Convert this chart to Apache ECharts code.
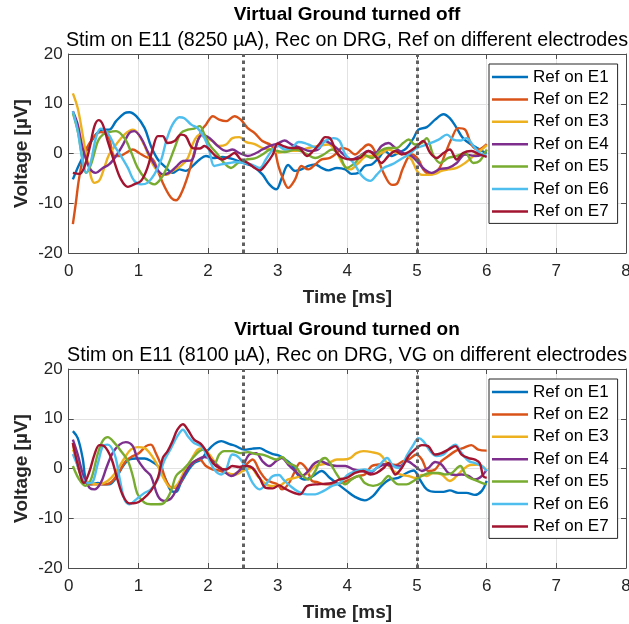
<!DOCTYPE html>
<html><head><meta charset="utf-8">
<script src="https://cdn.jsdelivr.net/npm/echarts@6/dist/echarts.min.js"></script>
<style>html,body{margin:0;padding:0;background:#fff}#c{width:629px;height:624px}</style>
</head><body><div id="c"></div>
<script>
// ---------- data ----------
const seriesNames = ['Ref on E1','Ref on E2','Ref on E3','Ref on E4','Ref on E5','Ref on E6','Ref on E7'];
const seriesColors = ['#0072BD','#D95319','#EDB120','#7E2F8E','#77AC30','#4DBEEE','#A2142F'];
const xRange = [0, 8, 1];
const yRange = [-20, 20, 10];
const markerTimes = [2.5, 5];
const titlesTop = ['Virtual Ground turned off', 'Stim on E11 (8250 µA), Rec on DRG, Ref on different electrodes'];
const titlesBottom = ['Virtual Ground turned on', 'Stim on E11 (8100 µA), Rec on DRG, VG on different electrodes'];
const xName = 'Time [ms]';
const yName = 'Voltage [µV]';

// Virtual ground off: [time ms, voltage µV]
const offE1 = [[0.06,-5.2],[0.15,-2.2],[0.25,0.5],[0.39,3.8],[0.49,4.8],[0.58,4.8],[0.68,6.5],[0.8,8.1],[0.87,8.3],[0.97,7.5],[1.09,5.1],[1.18,1.5],[1.28,-1.2],[1.4,-2.9],[1.49,-3.9],[1.59,-3.2],[1.68,-3.5],[1.78,-2.5],[1.88,-1.2],[1.97,-0.5],[2.07,-0.9],[2.21,-0.7],[2.35,-1.1],[2.5,-1.9],[2.64,-2.5],[2.78,-4.2],[2.88,-6.2],[2.98,-7.2],[3.06,-4.9],[3.15,-2.3],[3.25,-3.5],[3.34,-3.2],[3.44,-2.5],[3.54,-2.2],[3.63,-2.9],[3.73,-3.4],[3.85,-2.9],[3.97,-3.2],[4.06,-4.1],[4.16,-3.9],[4.25,-2.5],[4.35,-2.2],[4.45,-0.9],[4.54,0.5],[4.64,-0.5],[4.73,0.1],[4.85,1.1],[4.95,3.1],[5.02,4.8],[5.14,5.3],[5.26,6.8],[5.38,7.9],[5.47,7.1],[5.57,5.1],[5.66,3.1],[5.78,1.8],[5.9,0.8],[6.0,0]];
const offE2 = [[0.06,-14.2],[0.1,-10.2],[0.15,-4.9],[0.22,-0.2],[0.3,2.1],[0.39,3.8],[0.46,4.3],[0.56,3.8],[0.66,-0.5],[0.73,-0.5],[0.82,0.1],[0.92,0.8],[1.01,0.1],[1.11,-0.7],[1.21,-1.2],[1.28,-3.5],[1.37,-6.5],[1.47,-8.9],[1.54,-9.4],[1.61,-8.2],[1.71,-4.5],[1.8,0.1],[1.9,4.5],[1.97,5.8],[2.07,7.5],[2.16,6.8],[2.26,6.5],[2.38,7.5],[2.47,6.8],[2.57,5.1],[2.67,4.1],[2.78,2.5],[2.9,1.7],[2.96,0.5],[3.01,-2.5],[3.08,-5.2],[3.15,-6.9],[3.25,-5.2],[3.34,-2.5],[3.44,-3.2],[3.54,-2.2],[3.63,-1.2],[3.75,-0.9],[3.85,0.1],[3.92,1.1],[4.01,0.8],[4.11,-0.2],[4.2,0.8],[4.3,1.8],[4.37,1.1],[4.45,-1.5],[4.54,-4.5],[4.64,-6.3],[4.71,-6.1],[4.8,-2.9],[4.92,-0.2],[5.02,-1.2],[5.09,-3.2],[5.19,-4.2],[5.31,-3.2],[5.4,-0.2],[5.5,3.1],[5.59,5.1],[5.69,4.8],[5.78,1.8],[5.88,0.8],[6.0,1.9]];
const offE3 = [[0.06,12.1],[0.13,9.1],[0.2,3.8],[0.27,-1.5],[0.37,-5.9],[0.44,-5.4],[0.51,-2.9],[0.58,-0.2],[0.68,1.8],[0.8,3.8],[0.92,4.8],[0.99,4.1],[1.09,1.5],[1.18,-1.5],[1.3,-3.9],[1.4,-4.3],[1.49,-3.5],[1.61,-2.5],[1.71,-0.9],[1.8,2.5],[1.88,3.8],[1.97,3.1],[2.07,2.5],[2.16,1.5],[2.26,1.8],[2.35,3.1],[2.45,3.3],[2.55,2.3],[2.67,1.9],[2.78,1.1],[2.9,0.8],[3.01,0.2],[3.15,0.5],[3.3,0.6],[3.44,1.1],[3.58,1.5],[3.73,1.8],[3.85,0.1],[3.94,-2.2],[4.04,-3.2],[4.16,-1.9],[4.28,-0.5],[4.4,-0.5],[4.49,0.1],[4.59,0.8],[4.71,0.1],[4.83,-0.2],[4.92,-1.2],[5.0,-3.5],[5.07,-4.3],[5.16,-4.3],[5.26,-4.1],[5.35,-3.5],[5.45,-3.2],[5.57,-2.9],[5.69,-1.9],[5.81,-0.5],[5.93,0.8],[6.0,1.7]];
const offE4 = [[0.06,8.5],[0.13,5.8],[0.2,1.1],[0.3,-2.9],[0.39,-3.9],[0.49,-2.9],[0.58,-2.2],[0.68,-0.5],[0.78,1.8],[0.87,4.1],[0.94,4.5],[1.04,3.1],[1.13,0.5],[1.23,-2.2],[1.35,-4.2],[1.44,-3.9],[1.54,-2.7],[1.64,-1.5],[1.76,-1.4],[1.85,2.5],[1.92,3.8],[2.02,3.1],[2.14,1.5],[2.26,0.5],[2.35,0.8],[2.45,0.1],[2.57,-0.5],[2.69,0.1],[2.78,0.8],[2.88,1.5],[3.0,2.0],[3.1,2.6],[3.2,1.8],[3.34,1.1],[3.46,0.5],[3.58,0.8],[3.68,2.5],[3.78,1.8],[3.87,0.8],[3.97,-0.5],[4.06,-1.2],[4.18,-0.5],[4.3,0.5],[4.4,0.1],[4.49,1.5],[4.59,2.1],[4.69,1.1],[4.8,0.1],[4.92,-0.5],[5.02,-1.9],[5.11,-3.2],[5.21,-3.9],[5.33,-3.1],[5.45,-2.9],[5.57,-1.9],[5.69,-0.2],[5.83,-0.5],[5.95,-0.2]];
const offE5 = [[0.06,8.1],[0.13,4.5],[0.2,-1.2],[0.25,-3.9],[0.32,-2.2],[0.42,2.5],[0.49,3.8],[0.58,4.3],[0.68,4.5],[0.8,3.1],[0.89,0.5],[0.99,-2.9],[1.11,-5.2],[1.23,-6.2],[1.33,-4.9],[1.42,-2.5],[1.52,1.1],[1.61,4.1],[1.71,4.8],[1.8,5.0],[1.88,5.5],[1.95,3.8],[2.02,1.8],[2.14,-0.2],[2.23,-1.9],[2.33,-2.9],[2.43,-1.9],[2.55,-1.2],[2.67,-1.0],[2.78,-0.2],[2.9,0.8],[3.0,0.5],[3.1,0.3],[3.25,0.8],[3.39,0.1],[3.54,-0.9],[3.66,-0.2],[3.78,0.8],[3.89,-0.5],[3.99,-2.9],[4.11,-1.9],[4.23,-0.2],[4.35,-0.9],[4.47,0.5],[4.59,1.1],[4.71,1.1],[4.8,2.1],[4.88,2.8],[4.97,1.8],[5.07,2.1],[5.14,3.1],[5.23,-0.2],[5.33,-1.9],[5.45,-0.9],[5.57,-0.5],[5.69,0.1],[5.81,-1.9],[5.9,-1.5],[6.0,0.8]];
const offE6 = [[0.06,8.5],[0.13,4.5],[0.2,-1.5],[0.25,-3.9],[0.32,-1.5],[0.39,3.1],[0.46,5.0],[0.56,4.1],[0.66,1.5],[0.75,-0.5],[0.85,-2.9],[0.94,-5.5],[1.04,-6.2],[1.13,-5.9],[1.23,-4.2],[1.33,-1.2],[1.4,2.5],[1.49,5.8],[1.59,7.3],[1.66,7.1],[1.76,5.8],[1.85,5.1],[1.95,3.1],[2.02,0.5],[2.09,-2.5],[2.19,-2.2],[2.31,-1.9],[2.4,-1.7],[2.52,-1.9],[2.62,-2.2],[2.74,-2.9],[2.83,-1.2],[2.93,0.8],[3.01,1.5],[3.1,0.8],[3.2,1.1],[3.3,2.3],[3.39,2.1],[3.49,1.5],[3.58,1.1],[3.68,2.5],[3.8,3.1],[3.89,2.5],[3.97,-0.2],[4.09,-1.9],[4.21,-4.5],[4.33,-5.5],[4.42,-4.3],[4.52,-2.9],[4.64,-2.2],[4.76,-1.2],[4.88,-0.2],[5.0,1.1],[5.14,1.8],[5.31,2.8],[5.43,3.8],[5.52,2.8],[5.62,2.6],[5.71,3.1],[5.81,1.5],[5.9,0.1],[6.0,-0.5]];
const offE7 = [[0.06,-3.9],[0.15,-4.1],[0.22,-2.9],[0.3,1.1],[0.37,5.5],[0.43,6.7],[0.49,5.8],[0.56,2.5],[0.66,-1.9],[0.75,-5.2],[0.85,-6.7],[0.94,-6.2],[1.04,-5.5],[1.13,-2.9],[1.21,1.1],[1.28,3.5],[1.35,3.5],[1.42,2.1],[1.52,2.5],[1.61,3.8],[1.68,3.5],[1.78,1.1],[1.88,1.0],[1.95,1.5],[2.02,0.8],[2.11,-0.5],[2.21,-1.2],[2.31,-0.5],[2.38,0.1],[2.47,-1.2],[2.57,-1.9],[2.67,-2.9],[2.74,-3.4],[2.83,-2.2],[2.93,-0.2],[3.0,2.0],[3.08,1.5],[3.18,1.1],[3.3,1.1],[3.42,-0.5],[3.51,0.5],[3.61,2.1],[3.68,3.3],[3.75,3.1],[3.85,0.1],[3.94,-0.9],[4.06,-1.2],[4.18,-0.9],[4.3,0.5],[4.4,-0.5],[4.49,-1.9],[4.59,-0.5],[4.69,0.5],[4.78,-0.2],[4.88,0.3],[5.0,1.5],[5.09,2.5],[5.19,0.1],[5.28,-0.9],[5.38,0.1],[5.47,0.8],[5.57,-1.2],[5.66,0.1],[5.78,0.5],[5.9,-0.2],[6.0,-0.7]];

// Virtual ground on
const onE1 = [[0.06,7.5],[0.13,6.1],[0.2,2.1],[0.25,-2.5],[0.32,-3.2],[0.42,-2.9],[0.49,-3.2],[0.58,-3.2],[0.68,-1.9],[0.78,0.5],[0.87,1.8],[0.97,2.0],[1.09,2.0],[1.18,1.5],[1.28,0.5],[1.37,-1.5],[1.47,-4.5],[1.54,-4.7],[1.61,-2.9],[1.71,-0.5],[1.8,1.1],[1.9,1.8],[1.99,3.5],[2.09,4.9],[2.19,5.5],[2.31,4.9],[2.4,4.5],[2.52,3.8],[2.64,4.0],[2.74,4.1],[2.83,3.5],[2.93,2.9],[3.02,2.6],[3.08,2.1],[3.2,0.8],[3.3,-1.5],[3.39,-2.2],[3.51,-1.5],[3.63,-0.5],[3.75,-1.9],[3.87,-3.2],[3.99,-4.5],[4.11,-5.7],[4.25,-6.4],[4.37,-5.5],[4.49,-3.5],[4.61,-2.2],[4.73,-1.9],[4.85,-0.9],[4.95,-0.4],[5.04,-2.2],[5.14,-4.2],[5.26,-4.7],[5.38,-4.7],[5.47,-4.4],[5.59,-4.9],[5.71,-4.9],[5.83,-5.3],[5.93,-4.5],[6.0,-2.5]];
const onE2 = [[0.06,5.1],[0.15,-0.5],[0.25,-2.9],[0.34,-3.2],[0.44,-3.2],[0.54,-3.2],[0.63,-2.5],[0.73,-0.5],[0.82,1.5],[0.92,2.5],[1.01,3.1],[1.11,4.5],[1.18,4.8],[1.25,3.1],[1.33,0.5],[1.4,-2.5],[1.49,-3.9],[1.59,-3.2],[1.68,-0.5],[1.78,1.1],[1.88,1.8],[1.97,0.5],[2.07,-0.2],[2.16,-0.4],[2.26,-0.9],[2.35,-1.2],[2.45,-0.5],[2.55,0.8],[2.64,1.8],[2.74,-0.5],[2.83,-2.2],[2.9,-2.7],[3.0,-3.2],[3.06,-4.2],[3.15,-3.2],[3.25,-0.5],[3.32,1.1],[3.42,-0.2],[3.49,-2.5],[3.56,-2.7],[3.68,-3.2],[3.8,-3.2],[3.92,-2.9],[4.04,-2.2],[4.16,-1.5],[4.25,-1.2],[4.35,0.5],[4.45,0.8],[4.57,0.9],[4.69,0.7],[4.8,1.5],[4.9,2.0],[4.99,2.8],[5.07,1.8],[5.16,-0.5],[5.26,-0.2],[5.35,1.5],[5.45,2.5],[5.55,3.5],[5.66,4.1],[5.78,4.7],[5.88,3.8],[6.0,3.6]];
const onE3 = [[0.06,3.8],[0.13,1.5],[0.22,-2.2],[0.32,-2.9],[0.42,-3.2],[0.51,-2.9],[0.61,-1.9],[0.7,-0.2],[0.8,2.1],[0.89,3.8],[0.99,4.3],[1.09,4.1],[1.18,2.8],[1.28,0.5],[1.37,-2.2],[1.47,-3.9],[1.56,-3.2],[1.66,-0.5],[1.76,1.8],[1.85,3.8],[1.92,4.1],[2.02,2.8],[2.11,1.1],[2.21,-0.2],[2.31,-1.1],[2.4,-1.2],[2.5,-0.5],[2.62,0.1],[2.71,-1.5],[2.81,-2.9],[2.9,-3.5],[3.0,-3.5],[3.06,-3.2],[3.15,-2.2],[3.25,-1.9],[3.34,-1.5],[3.44,-0.9],[3.54,0.5],[3.63,0.8],[3.73,1.1],[3.85,1.8],[3.94,1.8],[4.04,2.1],[4.13,3.1],[4.23,3.5],[4.35,3.3],[4.47,2.8],[4.57,1.1],[4.66,-0.5],[4.78,-1.3],[4.88,-1.5],[4.97,-1.9],[5.07,-1.3],[5.14,-1.5],[5.23,-0.9],[5.35,-1.2],[5.47,-2.5],[5.57,-1.5],[5.66,-0.2],[5.76,0.7],[5.88,0.8],[6.0,-0.4]];
const onE4 = [[0.06,5.8],[0.13,2.8],[0.22,-1.9],[0.3,-3.9],[0.37,-4.2],[0.46,-2.9],[0.54,0.1],[0.63,3.1],[0.73,4.8],[0.82,5.3],[0.92,4.5],[0.99,1.8],[1.09,-0.2],[1.18,-1.5],[1.28,-5.5],[1.37,-6.5],[1.47,-6.0],[1.56,-3.9],[1.66,-1.2],[1.76,0.9],[1.85,1.8],[1.95,2.3],[2.04,1.8],[2.14,0.5],[2.23,-0.5],[2.33,-1.5],[2.4,-1.1],[2.5,0.5],[2.59,2.8],[2.69,3.1],[2.78,1.5],[2.88,0.5],[2.98,1.5],[3.06,2.1],[3.15,0.8],[3.25,-0.5],[3.34,-1.5],[3.44,-0.5],[3.51,0.8],[3.61,1.5],[3.73,0.8],[3.85,0.5],[3.97,0.5],[4.09,-0.2],[4.21,-0.5],[4.33,-0.9],[4.42,0.1],[4.54,0.8],[4.66,0.5],[4.76,0.5],[4.85,1.5],[4.97,0.5],[5.07,-0.5],[5.16,0.1],[5.26,1.3],[5.35,0.8],[5.45,-0.9],[5.55,-1.3],[5.64,-1.2],[5.74,-1.5],[5.83,-2.2],[5.93,-1.5],[6.0,-0.2]];
const onE5 = [[0.06,0.5],[0.15,-2.2],[0.24,-3.5],[0.32,-2.2],[0.42,3.1],[0.49,5.6],[0.56,6.3],[0.66,5.1],[0.75,3.5],[0.85,1.5],[0.92,-1.5],[0.99,-5.2],[1.09,-6.9],[1.18,-7.2],[1.28,-7.2],[1.37,-6.9],[1.47,-4.5],[1.54,-1.5],[1.64,-0.2],[1.71,0.8],[1.78,2.1],[1.88,3.5],[1.95,3.8],[2.02,2.1],[2.09,0.9],[2.16,2.8],[2.23,3.5],[2.35,3.5],[2.47,3.1],[2.57,3.3],[2.69,2.9],[2.78,2.8],[2.88,2.3],[2.98,1.8],[3.06,2.3],[3.15,1.1],[3.25,0.5],[3.34,-1.2],[3.44,-2.2],[3.54,-0.5],[3.61,1.5],[3.68,2.1],[3.75,1.1],[3.85,-1.2],[3.97,-3.2],[4.06,-2.2],[4.16,-1.5],[4.25,-2.9],[4.37,-3.5],[4.49,-2.9],[4.59,-1.5],[4.66,-2.5],[4.73,-3.2],[4.85,-3.2],[4.95,-2.5],[5.07,-1.5],[5.19,-0.9],[5.31,-0.9],[5.4,-1.2],[5.5,-0.9],[5.62,0.5],[5.71,-1.5],[5.81,-2.2],[5.93,-2.9],[6.0,-3.2]];
const onE6 = [[0.06,2.9],[0.13,0.5],[0.22,-2.5],[0.32,-2.9],[0.42,1.1],[0.49,4.5],[0.56,4.8],[0.66,2.8],[0.73,-1.9],[0.8,-6.2],[0.87,-7.2],[0.97,-6.2],[1.09,-4.9],[1.18,-4.2],[1.28,-2.2],[1.37,1.5],[1.47,4.1],[1.56,6.5],[1.64,7.8],[1.71,6.5],[1.8,5.1],[1.9,4.5],[1.99,2.5],[2.09,-0.2],[2.19,-1.2],[2.26,-0.2],[2.35,2.8],[2.45,2.1],[2.55,-0.2],[2.64,-2.9],[2.74,-4.2],[2.83,-3.2],[2.93,-1.5],[3.02,-1.3],[3.08,-2.2],[3.18,-3.5],[3.3,-4.7],[3.42,-5.2],[3.54,-5.2],[3.66,-4.5],[3.78,-3.5],[3.89,-2.9],[4.01,-1.2],[4.13,-0.5],[4.25,-0.2],[4.35,-0.5],[4.45,0.5],[4.57,2.1],[4.66,0.5],[4.76,0.1],[4.85,2.5],[4.95,4.8],[5.02,6.1],[5.09,5.5],[5.19,3.5],[5.28,2.5],[5.38,2.8],[5.47,4.1],[5.55,4.8],[5.64,3.1],[5.74,1.5],[5.83,1.1],[5.93,0.5],[6.0,-0.5]];
const onE7 = [[0.06,5.1],[0.13,0.8],[0.22,-2.9],[0.3,-0.5],[0.37,2.8],[0.44,4.7],[0.51,4.5],[0.61,2.1],[0.7,-2.2],[0.78,-5.5],[0.87,-7.0],[0.97,-6.9],[1.06,-6.2],[1.18,-4.5],[1.28,-1.9],[1.35,2.1],[1.42,3.5],[1.49,5.5],[1.56,7.8],[1.64,8.9],[1.71,7.8],[1.8,5.8],[1.9,4.9],[1.99,3.1],[2.07,1.1],[2.16,0.1],[2.26,-0.2],[2.35,0.5],[2.45,0.3],[2.55,0.5],[2.64,0.1],[2.74,-1.9],[2.83,-3.9],[2.93,-4.0],[3.02,-3.4],[3.1,-4.0],[3.2,-4.7],[3.32,-5.2],[3.42,-3.5],[3.54,-3.2],[3.66,-3.1],[3.78,-2.9],[3.89,-2.2],[3.99,-1.9],[4.11,-0.9],[4.23,-0.5],[4.33,-1.2],[4.42,-0.9],[4.52,0.1],[4.59,1.1],[4.69,-1.2],[4.78,0.1],[4.88,2.5],[4.97,3.8],[5.07,4.7],[5.16,4.5],[5.26,2.8],[5.35,3.1],[5.45,3.8],[5.55,4.5],[5.64,2.8],[5.74,2.1],[5.83,1.8],[5.9,1.1],[5.95,-1.5],[6.0,-1.9]];

const offData = [offE1, offE2, offE3, offE4, offE5, offE6, offE7];
const onData = [onE1, onE2, onE3, onE4, onE5, onE6, onE7];

// ---------- chart ----------
const FF = '"Liberation Sans", Arial, Helvetica, sans-serif';
const TXT = '#262626';
const AX = '#4d4d4d';
const grids = [
  {left: 68.7, right: 3, top: 54, height: 199, outerBoundsMode: 'none', containLabel: false},
  {left: 68.7, right: 3, top: 369, height: 199, outerBoundsMode: 'none', containLabel: false}
];

const xAxes = [], yAxes = [];
grids.forEach((g, gi) => {
  xAxes.push({
    gridIndex: gi, type: 'value', min: xRange[0], max: xRange[1], interval: xRange[2], position: 'bottom',
    name: xName, nameLocation: 'middle', nameGap: 35, nameMoveOverlap: false,
    nameTextStyle: {fontFamily: FF, fontWeight: 'bold', fontSize: 19, color: TXT},
    axisLine: {show: true, onZero: false, lineStyle: {color: AX, width: 1}},
    axisTick: {show: true, inside: true, length: 5, lineStyle: {color: AX}},
    axisLabel: {fontFamily: FF, fontSize: 17, color: TXT, margin: 10, showMinLabel: true, showMaxLabel: true, alignMaxLabel: 'center', alignMinLabel: 'center'},
    splitLine: {show: true, lineStyle: {color: '#e2e2e2', width: 1}}
  });
  xAxes.push({
    gridIndex: gi, type: 'value', min: xRange[0], max: xRange[1], interval: xRange[2], position: 'top',
    axisLine: {show: true, onZero: false, lineStyle: {color: AX, width: 1}},
    axisTick: {show: true, inside: true, length: 5, lineStyle: {color: AX}},
    axisLabel: {show: false}, splitLine: {show: false}
  });
  yAxes.push({
    gridIndex: gi, type: 'value', min: yRange[0], max: yRange[1], interval: yRange[2], position: 'left',
    name: yName, nameLocation: 'middle', nameGap: 37, nameRotate: 90, nameMoveOverlap: false,
    nameTextStyle: {fontFamily: FF, fontWeight: 'bold', fontSize: 19, color: TXT},
    axisLine: {show: true, onZero: false, lineStyle: {color: AX, width: 1}},
    axisTick: {show: true, inside: true, length: 5, lineStyle: {color: AX}},
    axisLabel: {fontFamily: FF, fontSize: 17, color: TXT, margin: 6, showMinLabel: true, showMaxLabel: true},
    splitLine: {show: true, lineStyle: {color: '#e2e2e2', width: 1}}
  });
  yAxes.push({
    gridIndex: gi, type: 'value', min: yRange[0], max: yRange[1], interval: yRange[2], position: 'right',
    axisLine: {show: true, onZero: false, lineStyle: {color: AX, width: 1}},
    axisTick: {show: true, inside: true, length: 5, lineStyle: {color: AX}},
    axisLabel: {show: false}, splitLine: {show: false}
  });
});

const series = [];
[offData, onData].forEach((set, gi) => {
  set.forEach((d, i) => {
    series.push({
      name: seriesNames[i], type: 'line', xAxisIndex: gi * 2, yAxisIndex: gi * 2,
      data: d, showSymbol: false, symbol: 'none', smooth: 0.35,
      lineStyle: {width: 2.4, color: seriesColors[i]}, itemStyle: {color: seriesColors[i]},
      emphasis: {disabled: true}, animation: false
    });
  });
  series.push({
    type: 'line', xAxisIndex: gi * 2, yAxisIndex: gi * 2, data: [], z: 10, silent: true,
    markLine: {
      silent: true, symbol: ['none', 'none'], label: {show: false},
      lineStyle: {type: [3.5, 3.5], width: 3, color: '#616161'},
      data: markerTimes.map(t => ({xAxis: t}))
    }
  });
});

const legends = grids.map((g, gi) => ({
  data: seriesNames, orient: 'vertical', left: 489, top: g.top + 10,
  icon: 'rect', itemWidth: 36, itemHeight: 2.5, itemGap: 4.4,
  padding: [4, 9, 3, 3], borderColor: '#262626', borderWidth: 1, backgroundColor: '#fff',
  selectedMode: false,
  textStyle: {fontFamily: FF, fontSize: 17, color: '#000', lineHeight: 18}
}));

function titleText(text, y, bold) {
  return {type: 'text', x: 347, y: y, silent: true,
    style: {text: text, fill: '#000', font: (bold ? 'bold 19px ' : '19.7px ') + FF,
      textAlign: 'center', textVerticalAlign: 'middle'}};
}

const chart = echarts.init(document.getElementById('c'), null, {renderer: 'canvas'});
chart.setOption({
  animation: false,
  backgroundColor: '#fff',
  grid: grids,
  xAxis: xAxes,
  yAxis: yAxes,
  legend: legends,
  series: series,
  graphic: [
    titleText(titlesTop[0], 15, true), titleText(titlesTop[1], 41, false),
    titleText(titlesBottom[0], 330, true), titleText(titlesBottom[1], 356, false)
  ]
});
</script></body></html>
